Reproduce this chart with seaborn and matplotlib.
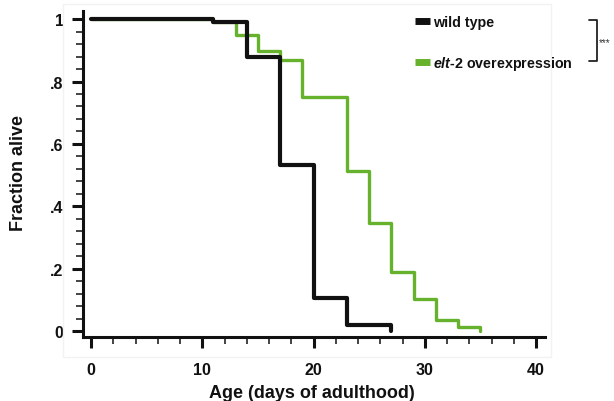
import numpy as np
import pandas as pd
import matplotlib
matplotlib.use("Agg")
import matplotlib.pyplot as plt
import seaborn as sns
from matplotlib.lines import Line2D
from matplotlib.ticker import FixedLocator, MultipleLocator
from matplotlib.patches import Rectangle

# ---- data ----
wt_days = [0, 11, 14, 17, 20, 23, 27]
wt_alive = [1.0, 0.99, 0.88, 0.533, 0.105, 0.02, 0.0]
elt_days = [0, 11, 13, 15, 17, 19, 23, 25, 27, 29, 31, 33, 35]
elt_alive = [1.0, 0.99, 0.95, 0.898, 0.869, 0.749, 0.512, 0.348, 0.188, 0.103, 0.036, 0.014, 0.0]
series_labels = ["wild type", r"$\mathit{elt}$-$\mathit{2}$ overexpression"]
x_ticks = [0, 10, 20, 30, 40]
y_ticks = [0, 0.2, 0.4, 0.6, 0.8, 1.0]
y_ticklabels = ["0", ".2", ".4", ".6", ".8", "1"]

BLACK = "#111111"
GREEN = "#67b22c"

sns.set_style("ticks")
plt.rcParams["font.family"] = ["Liberation Sans", "DejaVu Sans"]
plt.rcParams["font.weight"] = "bold"
plt.rcParams["mathtext.fontset"] = "custom"
plt.rcParams["mathtext.it"] = "Liberation Sans:italic:bold"
plt.rcParams["mathtext.rm"] = "Liberation Sans:bold"
plt.rcParams["mathtext.bf"] = "Liberation Sans:bold"
for k in ["text.color", "axes.labelcolor", "xtick.color", "ytick.color", "axes.edgecolor"]:
    plt.rcParams[k] = BLACK

W, H = 614, 402
fig = plt.figure(figsize=(W / 100, H / 100), dpi=100)
ax = fig.add_axes([83 / W, 64 / H, (545 - 83) / W, (390 - 64) / H])

df_wt = pd.DataFrame({"day": wt_days, "alive": wt_alive})
df_elt = pd.DataFrame({"day": elt_days, "alive": elt_alive})

sns.lineplot(data=df_elt, x="day", y="alive", color=GREEN, lw=2.4,
             drawstyle="steps-post", estimator=None, ax=ax)
sns.lineplot(data=df_wt, x="day", y="alive", color=BLACK, lw=3.0,
             drawstyle="steps-post", estimator=None, ax=ax)

ax.set_xlim(-0.72, 40.8)
ax.set_ylim(-0.019, 1.026)
ax.xaxis.set_major_locator(FixedLocator(x_ticks))
ax.xaxis.set_minor_locator(MultipleLocator(2))
ax.yaxis.set_major_locator(FixedLocator(y_ticks))
ax.set_yticklabels(y_ticklabels)
ax.yaxis.set_minor_locator(MultipleLocator(0.04))

for s in ["top", "right"]:
    ax.spines[s].set_visible(False)
for s in ["left", "bottom"]:
    ax.spines[s].set_linewidth(2.2)

ax.tick_params(which="major", direction="out", length=8, width=2.2, labelsize=11.5)
ax.tick_params(which="minor", direction="out", length=5, width=1.1)
ax.tick_params(axis="x", which="major", pad=10)
ax.tick_params(axis="y", which="major", pad=6)

ax.set_xlabel("Age (days of adulthood)", fontsize=13, fontweight="bold")
ax.set_ylabel("Fraction alive", fontsize=13, fontweight="bold")
ax.xaxis.set_label_coords((312 - 83) / 462, -0.145)
ax.yaxis.set_label_coords(-0.121, 0.506)

# legend
handles = [Line2D([0], [0], color=BLACK, lw=5, solid_capstyle="butt"),
           Line2D([0], [0], color=GREEN, lw=5, solid_capstyle="butt")]
fig.legend(handles, series_labels, loc="upper left",
           bbox_to_anchor=(415 / W, 1 - 16 / H), bbox_transform=fig.transFigure,
           frameon=False, handlelength=1.05, handletextpad=0.2,
           labelspacing=1.77, borderaxespad=0, borderpad=0, fontsize=10.3)

# significance bracket
fig.add_artist(Line2D([589 / W, 597 / W, 597 / W, 589 / W],
                      [1 - 21 / H, 1 - 21 / H, 1 - 62 / H, 1 - 62 / H],
                      transform=fig.transFigure, color="#222222", lw=1.3))
fig.text(599 / W, 1 - 43 / H, "***", fontsize=7, fontweight="normal",
         va="center", ha="left", color="#333333")

# faint panel border
fig.patches.append(Rectangle((63 / W, (H - 358) / H), (551 - 63) / W, (358 - 5) / H,
                             transform=fig.transFigure, fill=False,
                             edgecolor="#f2f2f2", lw=1))

fig.savefig("out.png", dpi=100)
